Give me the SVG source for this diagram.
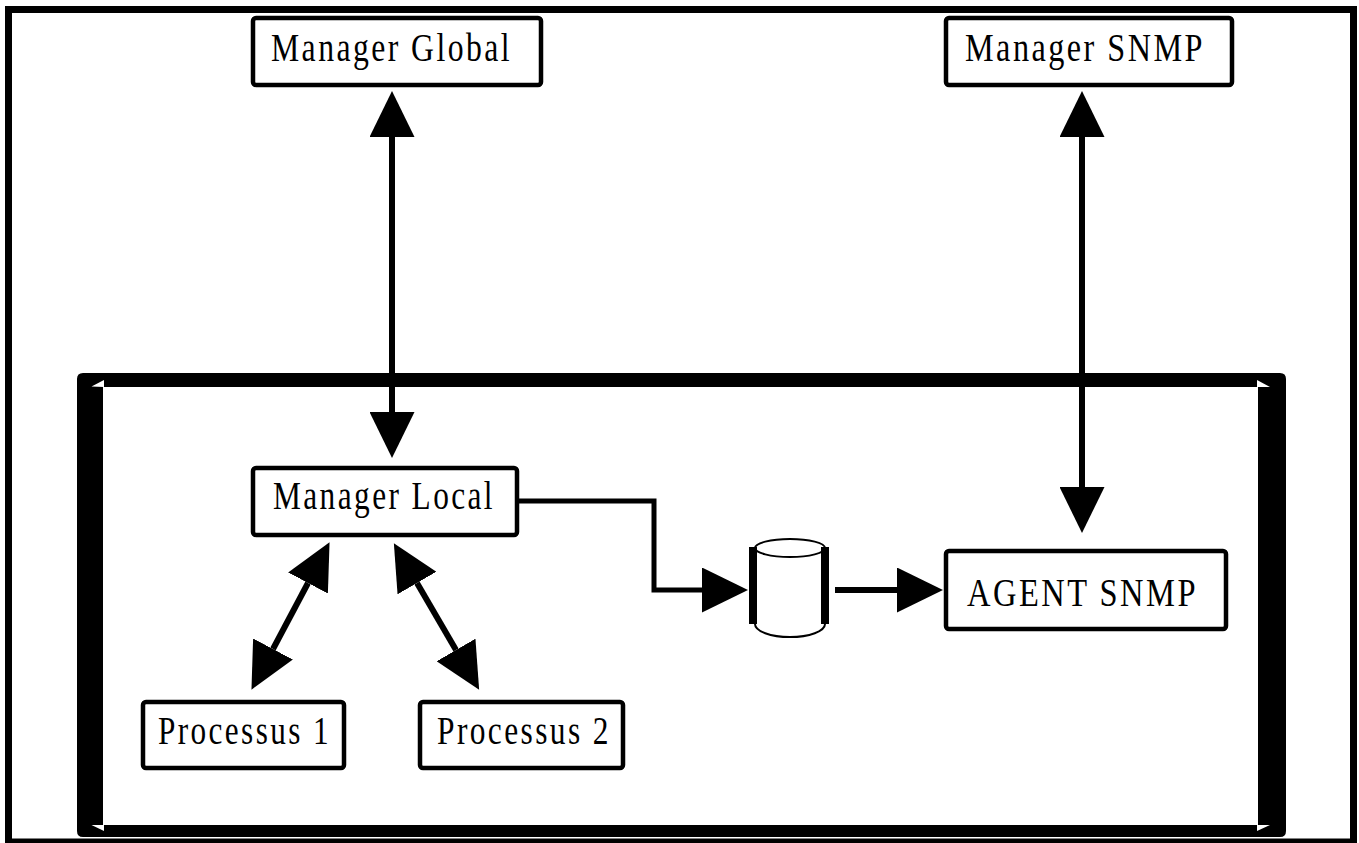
<svg xmlns="http://www.w3.org/2000/svg" width="1359" height="843" viewBox="0 0 1359 843">
<style>
.box{fill:#fff;stroke:#000;stroke-width:4.5}
.lbl{font-family:"Liberation Serif","Times New Roman",serif;font-size:39px;fill:#000;letter-spacing:3px}
.ln{fill:none;stroke:#000;stroke-width:6}
.ln5{fill:none;stroke:#000;stroke-width:5}
.notch{fill:#fff}
</style>
<defs>
<marker id="ah" viewBox="0 0 46 45" refX="0" refY="22.5" markerWidth="46" markerHeight="45" markerUnits="userSpaceOnUse" orient="auto-start-reverse">
<path d="M0,0 L46,22.5 L0,45 Z" fill="#000"/>
</marker>
</defs>
<rect width="1359" height="843" fill="#fff"/>
<rect id="frame" x="8.5" y="9.5" width="1345" height="832.5" fill="none" stroke="#000" stroke-width="7"/>
<g id="system">
<path fill="#000" fill-rule="evenodd" d="M83,373 H1280 Q1286,373 1286,379 V831 Q1286,837 1280,837 H83 Q77,837 77,831 V379 Q77,373 83,373 Z M103,387 V825 H1258 V387 Z"/>
<polygon class="notch" points="91.5,386.5 104,380 104,387"/>
<polygon class="notch" points="91.5,825 104,825 104,831"/>
<polygon class="notch" points="1257,380 1257,387 1270,387"/>
<polygon class="notch" points="1257,825 1257,831 1270,825"/>
</g>
<g id="connectors">
<path class="ln" d="M392,137 V412" marker-start="url(#ah)" marker-end="url(#ah)"/>
<path class="ln" d="M1082,137 V487" marker-start="url(#ah)" marker-end="url(#ah)"/>
<path class="ln5" d="M517,501 H654 V590 H702" marker-end="url(#ah)"/>
<path class="ln" d="M835,590 H897" marker-end="url(#ah)"/>
<path class="ln" d="M308,583 L273,649" marker-start="url(#ah)" marker-end="url(#ah)"/>
<path class="ln" d="M417,583 L456,650" marker-start="url(#ah)" marker-end="url(#ah)"/>
</g>
<g id="manager-global">
<rect class="box" x="253" y="18" width="288" height="67" rx="3"/>
<text class="lbl" x="271" y="61" textLength="241" lengthAdjust="spacingAndGlyphs">Manager Global</text>
</g>
<g id="manager-snmp">
<rect class="box" x="946" y="18" width="286" height="67" rx="3"/>
<text class="lbl" x="965" y="61" textLength="240" lengthAdjust="spacingAndGlyphs">Manager SNMP</text>
</g>
<g id="manager-local">
<rect class="box" x="253" y="468" width="264" height="67" rx="3"/>
<text class="lbl" x="273" y="509" textLength="222" lengthAdjust="spacingAndGlyphs">Manager Local</text>
</g>
<g id="processus-1">
<rect class="box" x="143" y="702" width="201" height="66" rx="3"/>
<text class="lbl" x="158" y="744" textLength="173" lengthAdjust="spacingAndGlyphs">Processus 1</text>
</g>
<g id="processus-2">
<rect class="box" x="420" y="702" width="203" height="66" rx="3"/>
<text class="lbl" x="437" y="744" textLength="174" lengthAdjust="spacingAndGlyphs">Processus 2</text>
</g>
<g id="agent-snmp">
<rect class="box" x="946" y="551" width="280" height="78" rx="3"/>
<text class="lbl" x="967" y="606" textLength="231" lengthAdjust="spacingAndGlyphs">AGENT SNMP</text>
</g>
<g id="database">
<rect x="755" y="548" width="70" height="77" fill="#fff"/>
<path d="M755,624 A35,13 0 0 0 825,624" fill="#fff" stroke="#000" stroke-width="2"/>
<ellipse cx="790" cy="548" rx="35" ry="9" fill="#fff" stroke="#000" stroke-width="2"/>
<rect x="749" y="547" width="8" height="77" fill="#000"/>
<rect x="821" y="547" width="8" height="77" fill="#000"/>
</g>
</svg>
